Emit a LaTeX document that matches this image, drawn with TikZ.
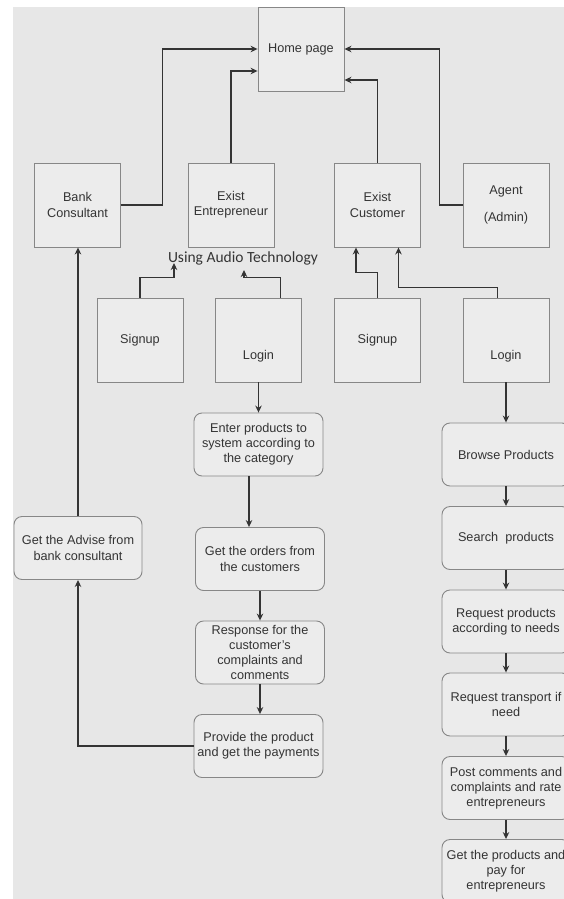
\documentclass[tikz,border=0pt]{standalone}
\usepackage{fontspec}
\setmainfont{Liberation Sans}
\newfontfamily\audiofont{Carlito}
\usepackage{tikz}
\usetikzlibrary{arrows.meta, positioning}

\definecolor{bggray}{RGB}{231,231,231}
\definecolor{boxfill}{RGB}{236,236,236}
\definecolor{edgegray}{RGB}{135,135,135}
\definecolor{inkgray}{RGB}{52,52,52}

\tikzset{
  squarebox/.style={draw=edgegray, fill=boxfill, text=inkgray, line width=0.9pt,
    minimum width=86pt, minimum height=84pt, inner sep=0pt, align=center,
    font=\fontsize{12.7}{15.2}\selectfont},
  stepbox/.style={squarebox, rounded corners=8pt, minimum width=129pt, minimum height=63pt},
  lowlabel/.style={text height=61pt, text depth=23pt},
  flow/.style={draw=inkgray, line width=1.3pt, -{Stealth[length=7pt,width=6.5pt]}},
}

\begin{document}
\begin{tikzpicture}[x=1pt, y=-1pt]

        \useasboundingbox (0,0) rectangle (564,899);
        \fill[bggray] (13,7) rectangle (564,899);

        \def\rowa{205}
        \def\rowb{340}

        % top and the four users
        \node[squarebox] (home) at (301, 49) {Home page};
        \node[squarebox] (bank) at (77.5, \rowa) {Bank\\Consultant};
        \node[squarebox] (entre) at (231, \rowa) {Exist\\Entrepreneur};
        \node[squarebox] (cust) at (377.5, \rowa) {Exist\\Customer};
        \node[squarebox] (agent) at (506, \rowa) {Agent\\[12pt](Admin)};

        \node[text=inkgray, font=\audiofont\fontsize{15.5}{18}\selectfont] (audio) at (243, 258) {Using Audio Technology};
        \coordinate (tipA) at (174, 263);
        \coordinate (tipB) at (244, 270);

        \node[squarebox] (signupA) at (140, \rowb) {Signup};
        \node[squarebox, lowlabel] (loginA) at (258.5, \rowb) {Login};
        \node[squarebox] (signupB) at (377.5, \rowb) {Signup};
        \node[squarebox, lowlabel] (loginB) at (506, \rowb) {Login};

        % entrepreneur side
        \node[stepbox] (enter) at (258.5, 444.5) {Enter products to\\system according to\\the category};
        \node[stepbox] (orders) at (260, 559) {Get the orders from\\the customers};
        \node[stepbox] (response) at (260, 652.5) {Response for the\\customer’s\\complaints and\\comments};
        \node[stepbox] (provide) at (258.5, 746) {Provide the product\\and get the payments};
        \node[stepbox, minimum width=128pt] (advise) at (78, 548) {Get the Advise from\\bank consultant};

        % customer side
        \node[stepbox, minimum width=128pt] (browse) at (506, 454.5) {Browse Products};
        \node[stepbox, minimum width=128pt] (search) at (506, 538) {Search\ \ products};
        \node[stepbox, minimum width=128pt] (reqprod) at (506, 621.5) {Request products\\according to needs};
        \node[stepbox, minimum width=128pt] (reqtrans) at (506, 704.5) {Request transport if\\need};
        \node[stepbox, minimum width=128pt] (post) at (506, 788) {Post comments and\\complaints and rate\\entrepreneurs};
        \node[stepbox, minimum width=128pt] (getprod) at (506, 871) {Get the products and\\pay for\\entrepreneurs};

        \draw[flow] (bank.east) -- ++(41.5,0) |- (home.west);
        \draw[flow] (entre.north) |- ([yshift=-22pt]home.west);
        \draw[flow] (cust.north) |- ([yshift=-31pt]home.east);
        \draw[flow] (agent.west) -- ++(-23,0) |- (home.east);

        \draw[flow] (signupA.north) -- ++(0,-20) -| (tipA);
        \draw[flow] ([xshift=22pt]loginA.north) -- ++(0,-20) -| (tipB);
        \draw[flow] (signupB.north) -- ++(0,-25) -| ([xshift=-21.5pt]cust.south);
        \draw[flow] ([xshift=-8.5pt]loginB.north) -- ++(0,-10) -| ([xshift=21pt]cust.south);

        \draw[flow] (loginA.south) -- (loginA.south |- enter.north);
        \draw[flow] ([xshift=-9.5pt]enter.south) -- ([xshift=-9.5pt]enter.south |- orders.north);
        \draw[flow] (orders.south) -- (response.north);
        \draw[flow] (response.south) -- (response.south |- provide.north);
        \draw[flow] (provide.west) -| (advise.south);
        \draw[flow] (advise.north) -- (advise.north |- bank.south);

        \foreach \a/\b in {loginB/browse, browse/search, search/reqprod, reqprod/reqtrans, reqtrans/post, post/getprod} {
                \draw[flow] (\a.south) -- (\b.north);
            }

    \end{tikzpicture}
\end{document}
